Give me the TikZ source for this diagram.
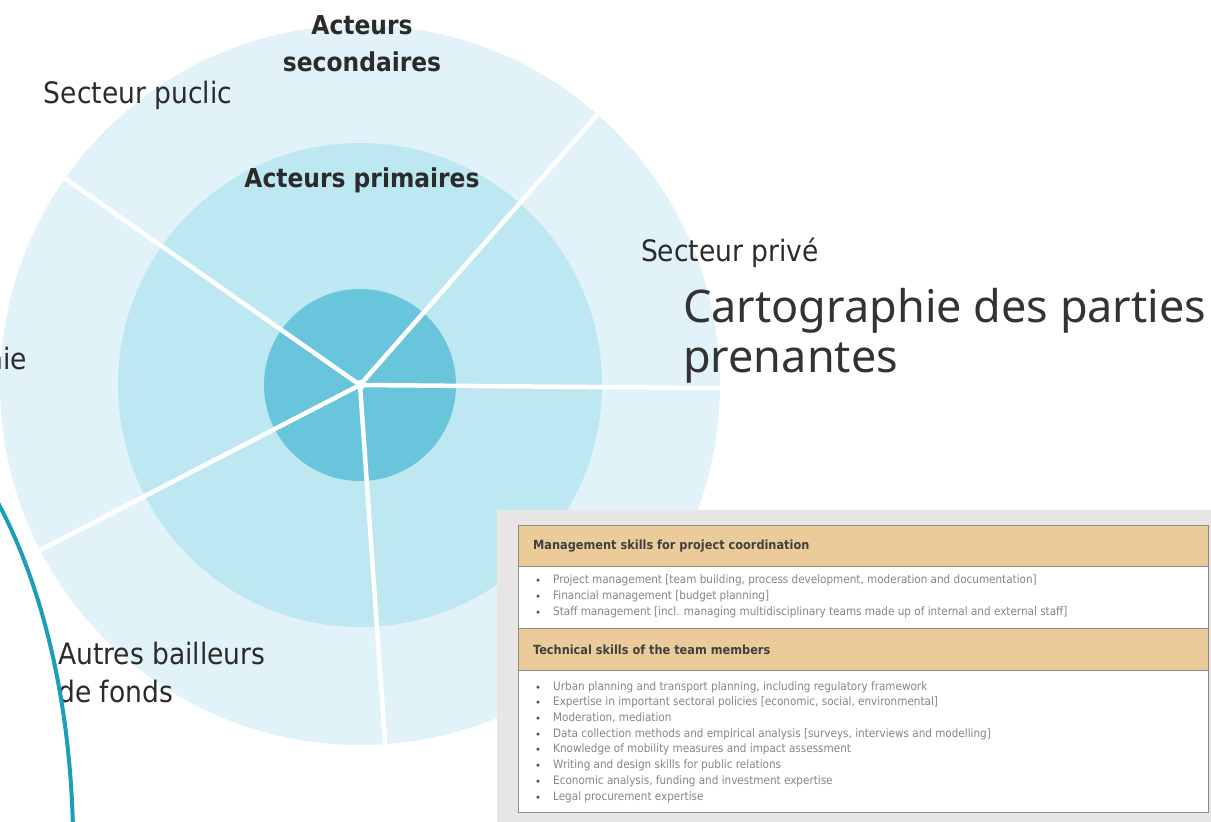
\documentclass[tikz,border=0pt]{standalone}
\usepackage{fontspec}
\setmainfont{Noto Sans}
\newfontfamily\ringfont{DejaVu Sans Condensed}
\newfontfamily\tablefont{DejaVu Sans Condensed}
\usetikzlibrary{positioning}

\definecolor{ringout}{HTML}{E1F3F9}
\definecolor{ringmid}{HTML}{BDE8F1}
\definecolor{ringin}{HTML}{69C5DC}
\definecolor{labeltext}{HTML}{2B2B2B}
\definecolor{titletext}{HTML}{333333}
\definecolor{arcteal}{HTML}{1C9DB8}
\definecolor{panelgray}{HTML}{E8E6E4}
\definecolor{headtan}{HTML}{ECCB9A}
\definecolor{itemgray}{HTML}{858585}
\definecolor{rulegray}{HTML}{8C8C8C}

\begin{document}
\begin{tikzpicture}[x=1pt,y=-1pt,
	spoke/.style={white,line width=4.5pt},
	ringlabel/.style={text=labeltext,font=\ringfont\fontsize{29.5}{38}\selectfont,inner sep=0pt},
	ringbold/.style={ringlabel,font=\ringfont\bfseries\fontsize{26}{37}\selectfont},
	headrow/.style={text=labeltext!90,font=\tablefont\bfseries\fontsize{12.6}{14}\selectfont,anchor=west,inner sep=0pt},
	item/.style={text=itemgray,font=\tablefont\fontsize{11.6}{13}\selectfont,anchor=west,inner sep=0pt},
	bulletdot/.style={circle,fill=labeltext!80,inner sep=0pt,minimum size=3.5pt}]
	
	\useasboundingbox (0,0) rectangle (1211,822);
	\clip (0,0) rectangle (1211,822);
	
	% rings
	\coordinate (hub) at (360,385);
	\fill[ringout] (hub) circle (360);
	\fill[ringmid] (hub) circle (242);
	\fill[ringin] (hub) circle (96);
	
	\foreach \a [count=\i] in {-48.7,-145,0.5,152.7,86}
	{
		\path (hub) ++(\a:360) coordinate (rim\i);
		\draw[spoke] (hub) -- (rim\i);
	}
	\fill[white] (hub) circle (5);
	
	\node[ringbold,align=center] (second) at (362,44) {Acteurs\\secondaires};
	\node[ringbold] (prim) at (362,180) {Acteurs primaires};
	\node[ringlabel] (public) at (138,95) {Secteur puclic};
	\node[ringlabel] (prive) at (730,253) {Secteur privé};
	\node[ringlabel,anchor=east] (civil) at (27,358) {nie};
	\node[ringlabel,align=left,anchor=north west] (bailleurs) at (58,642) {Autres bailleurs\\de fonds};
	
	% teal arc
	\coordinate (arctop) at (-8,492);
	\coordinate (arcbot) at (73,830);
	\draw[arcteal,line width=4pt] (arctop) .. controls (38,572) and (70,690) .. (arcbot);
	
	% skills table
	\fill[panelgray] (497,510) rectangle (1211,822);
	\fill[headtan] (518,525) rectangle (1208,566);
	\fill[white] (518,566) rectangle (1208,628);
	\fill[headtan] (518,628) rectangle (1208,670);
	\fill[white] (518,670) rectangle (1208,812);
	\draw[rulegray,line width=1pt] (518,525) rectangle (1208,812);
	\draw[rulegray,line width=0.8pt] (518,566) -- (1208,566) (518,628) -- (1208,628) (518,670) -- (1208,670);
	
	\node[headrow] (head1) at (533,546) {Management skills for project coordination};
	\node[headrow] (head2) at (533,650) {Technical skills of the team members};
	
	\foreach \y/\label in {
		580/{Project management [team building, process development, moderation and documentation]},
		596/{Financial management [budget planning]},
		612/{Staff management [incl. managing multidisciplinary teams made up of internal and external staff]},
		687/{Urban planning and transport planning, including regulatory framework},
		702/{Expertise in important sectoral policies [economic, social, environmental]},
		718/{Moderation, mediation},
		734/{Data collection methods and empirical analysis [surveys, interviews and modelling]},
		749/{Knowledge of mobility measures and impact assessment},
		765/{Writing and design skills for public relations},
		781/{Economic analysis, funding and investment expertise},
		797/{Legal procurement expertise}
	}
	{
		\node[bulletdot] (dot\y) at (538,\y) {};
		\node[item] (item\y) at (553,\y) {\label};
	}
	
	% title
	\node[text=titletext,font=\fontsize{45}{50}\selectfont,align=left,anchor=north west,inner sep=0pt] (title) at (683,288) {Cartographie des parties\\prenantes};
	
\end{tikzpicture}
\end{document}
